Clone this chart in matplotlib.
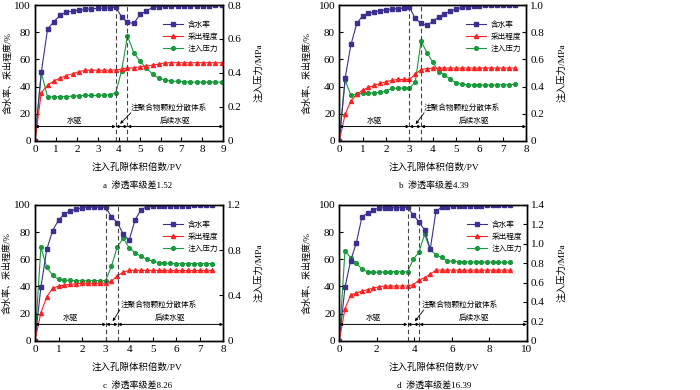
import numpy as np
import matplotlib
matplotlib.use('Agg')
import matplotlib.pyplot as plt

plt.rcParams['font.family'] = ['Liberation Serif', 'Noto Sans CJK SC']
plt.rcParams['axes.unicode_minus'] = False

###############################################################
## Data
###############################################################
# a: 渗透率级差1.52
x_a = np.concatenate([np.arange(0, 3.61, 0.3), [3.86, 4.14], np.arange(4.42, 8.95, 0.3)])
wc_a = [0, 50.4, 82.3, 87.7, 92.6, 94.8, 95.6, 96.3, 96.8, 97.3, 97.5, 97.8, 98.0,
        98.3, 91.4,
        87.2, 86.5, 93.1, 95.6, 98.3, 98.8, 99.0, 99.0, 99.0, 99.2, 99.2, 99.3, 99.5, 99.5, 99.7, 100]
rec_a = [0, 35.4, 41, 44, 46.2, 48, 49.4, 50.9, 52, 52, 52, 52, 52,
         52.3, 52.8,
         53.3, 53.8, 54.5, 55, 55.8, 56.5, 57.5, 57.5, 57.5, 57.5, 57.5, 57.5, 57.5, 57.5, 57.5, 57.5]
pr_a = [0, 0.403, 0.259, 0.259, 0.259, 0.261, 0.263, 0.266, 0.267, 0.267, 0.267, 0.27, 0.271,
        0.283, 0.413,
        0.619, 0.52, 0.468, 0.429, 0.392, 0.368, 0.358, 0.352, 0.35, 0.348, 0.346, 0.346, 0.346, 0.346, 0.346, 0.346]

# b: 渗透率级差4.39
x_b = np.arange(0, 7.51, 0.25)
wc_b = [0, 46.2, 71, 86.5, 92.1, 93.9, 94.8, 95.8, 96.6, 97, 97.3, 97.8, 98.5,
        90.2, 86.5, 85, 88, 91, 93.5, 95.5, 97, 98.3, 98.8, 99.3, 99.6, 99.8, 100, 100, 100, 100, 100]
rec_b = [0, 19.6, 29.5, 34.2, 37.4, 39.3, 40.8, 42.3, 43.5, 44.5, 45.2, 45.2, 45.2,
         49, 52.5, 53.2, 53.5, 53.6, 53.6, 53.6, 53.6, 53.6, 53.6, 53.6, 53.6, 53.6, 53.6, 53.6, 53.6, 53.6, 53.6]
pr_b = [0, 0.447, 0.334, 0.344, 0.349, 0.351, 0.354, 0.356, 0.366, 0.386, 0.388, 0.388, 0.388,
        0.43, 0.735, 0.65, 0.58, 0.51, 0.484, 0.452, 0.427, 0.418, 0.413, 0.412, 0.411, 0.411, 0.411, 0.412, 0.413, 0.414, 0.415]

# c: 渗透率级差8.26
x_c = np.arange(0, 7.51, 0.25)
wc_c = [0, 39.3, 67.3, 81.1, 88.9, 93.6, 95.6, 97.0, 97.8, 98.3, 98.3, 98.3, 98.3,
        91.4, 87, 78.4, 74, 88.9, 96.3, 98.8, 99.0, 99.2, 99.3, 99.4, 99.5, 99.5, 99.6, 99.7, 99.8, 99.9, 100]
rec_c = [0, 20.6, 32.4, 38.6, 40.3, 41, 41.5, 42, 42.3, 42.3, 42.3, 42.3, 42.3,
         44, 47.7, 50.6, 51.8, 51.8, 51.8, 51.8, 51.8, 51.8, 51.8, 51.8, 51.8, 51.8, 51.8, 51.8, 51.8, 51.8, 51.8]
pr_c = [0, 0.826, 0.649, 0.578, 0.542, 0.536, 0.534, 0.53, 0.53, 0.53, 0.53, 0.53, 0.53,
        0.66, 0.832, 0.905, 0.822, 0.778, 0.746, 0.72, 0.702, 0.691, 0.686, 0.684, 0.682, 0.682, 0.682, 0.682, 0.682, 0.682, 0.682]

# d: 渗透率级差16.39
x_d = np.arange(0, 9.1, 0.303)
wc_d = [0, 39.3, 59, 72.2, 91.4, 93.9, 96.3, 97.8, 98.0, 98.0, 98.0, 98.0, 98.3,
        92.6, 87.7, 81.6, 67.3, 95.3, 98.3, 98.8, 99.0, 99.2, 99.3, 99.4, 99.5, 99.6, 99.7, 99.8, 99.9, 100, 100]
rec_d = [0, 23.5, 33.8, 35.1, 36.6, 37.6, 38.8, 39.8, 40.3, 40.3, 40.3, 40.3, 40.3,
         41.3, 44.5, 46.5, 49, 52, 52, 52, 52, 52, 52, 52, 52, 52, 52, 52, 52, 52, 52]
pr_d = [0, 0.925, 0.857, 0.798, 0.739, 0.708, 0.708, 0.705, 0.71, 0.712, 0.712, 0.71, 0.708,
        0.839, 0.912, 1.097, 0.942, 0.884, 0.86, 0.822, 0.819, 0.817, 0.815, 0.814, 0.813, 0.812, 0.811, 0.81, 0.809, 0.808, 0.808]

captions = ['a  渗透率级差1.52', 'b  渗透率级差4.39', 'c  渗透率级差8.26', 'd  渗透率级差16.39']

C_WC = '#3b2f8f'
C_REC = '#ff2222'
C_PR = '#1a9a3c'


def panel(rect, x, wc, rec, pr, xmax, xstep, pmax, pticks, ptick_lab, bounds, ybar,
          txt_pos, arrow_from, arrow_to, lab1_x, lab2_x, caption, cap_x, ylab_l):
    ax = fig.add_axes(rect)
    ax2 = ax.twinx()
    l1, = ax.plot(x, wc, '-s', color=C_WC, lw=0.8, ms=2.6, mec=C_WC, mfc=C_WC)
    l2, = ax.plot(x, rec, '-^', color=C_REC, lw=0.8, ms=2.9, mec=C_REC, mfc=C_REC)
    l3, = ax2.plot(x, pr, '-o', color=C_PR, lw=0.8, ms=2.7, mec=C_PR, mfc=C_PR)
    ax.set_xlim(0, xmax)
    ax.set_ylim(0, 100)
    ax2.set_ylim(0, pmax)
    ax.set_xticks(np.arange(0, xmax + 0.01, xstep))
    ax.set_yticks(range(0, 101, 20))
    ax2.set_yticks(pticks)
    ax2.set_yticklabels(ptick_lab)
    for a in (ax, ax2):
        a.tick_params(direction='in', length=3, width=0.8, labelsize=8, pad=3)
        for s in a.spines.values():
            s.set_linewidth(1.0)
    ax.set_zorder(ax2.get_zorder() + 1)
    ax.patch.set_visible(False)

    # dashed boundaries
    for b in bounds:
        ax.axvline(b, color='#444444', ls=(0, (4, 2.5)), lw=0.8)

    # stage arrows
    edges = [0] + list(bounds) + [xmax]
    for i in range(len(edges) - 1):
        ax.annotate('', xy=(edges[i + 1], ybar), xytext=(edges[i], ybar),
                    arrowprops=dict(arrowstyle='<|-|>', color='k', lw=0.7,
                                    mutation_scale=4, shrinkA=0, shrinkB=0))
    ax.text(lab1_x, ybar + 1.5, '水驱', fontsize=5.5, ha='center', va='bottom')
    ax.text(lab2_x, ybar + 1.5, '后续水驱', fontsize=5.5, ha='center', va='bottom')
    ax.text(txt_pos[0], txt_pos[1], '注聚合物颗粒分散体系', fontsize=5.5, ha='left', va='center')
    ax.annotate('', xy=arrow_to, xytext=arrow_from,
                arrowprops=dict(arrowstyle='-|>', color='k', lw=0.6, mutation_scale=4,
                                shrinkA=0, shrinkB=0))

    ax.legend([l1, l2, l3], ['含水率', '采出程度', '注入压力'], loc='upper left',
              bbox_to_anchor=(0.66, 0.91), frameon=False, fontsize=5.5,
              handlelength=2.6, labelspacing=0.5, borderpad=0, handletextpad=0.6)

    ax.set_ylabel('含水率、采出程度/%', fontsize=6.5, va='center')
    ax.yaxis.set_label_coords(ylab_l, 0.5)
    ax2.set_ylabel('注入压力/MPa', fontsize=6.8, va='center')
    ax2.yaxis.set_label_coords(1.188, 0.5)
    l, b, w, h = rect
    fig.text(cap_x, b - 0.068, '注入孔隙体积倍数/PV', fontsize=6.8, ha='center', va='center')
    fig.text(cap_x, b - 0.115, caption, fontsize=6.5, ha='center', va='center')
    return ax


fig = plt.figure(figsize=(7, 3.9), dpi=100)

panel([0.05, 0.639, 0.269, 0.348], x_a, wc_a, rec_a, pr_a, 9, 1, 0.8,
      [0, 0.2, 0.4, 0.6, 0.8], ['0', '0.2', '0.4', '0.6', '0.8'], [3.86, 4.42], 10.5,
      (4.55, 24.3), (4.58, 20.6), (4.07, 12.5), 1.9, 6.7, captions[0], 0.196, -0.145)

panel([0.4847, 0.639, 0.267, 0.348], x_b, wc_b, rec_b, pr_b, 8, 1, 1.0,
      [0, 0.2, 0.4, 0.6, 0.8, 1.0], ['0', '0.2', '0.4', '0.6', '0.8', '1.0'], [3.0, 3.5], 10.5,
      (3.63, 24.3), (3.63, 20.6), (3.27, 12.3), 1.5, 5.77, captions[1], 0.62, -0.17)

panel([0.05, 0.1264, 0.269, 0.348], x_c, wc_c, rec_c, pr_c, 8, 1, 1.2,
      [0, 0.4, 0.8, 1.2], ['0', '0.4', '0.8', '1.2'], [3.02, 3.52], 12,
      (3.66, 26.3), (3.6, 22.6), (3.3, 14.3), 1.5, 5.75, captions[2], 0.196, -0.15)

panel([0.4847, 0.1264, 0.268, 0.348], x_d, wc_d, rec_d, pr_d, 10, 2, 1.4,
      [0, 0.2, 0.4, 0.6, 0.8, 1.0, 1.2, 1.4], ['0', '0.2', '0.4', '0.6', '0.8', '1.0', '1.2', '1.4'],
      [3.64, 4.27], 12,
      (4.38, 26.3), (4.5, 22.6), (4.03, 14.3), 1.8, 7.2, captions[3], 0.62, -0.17)

plt.savefig('out.png', dpi=100)
